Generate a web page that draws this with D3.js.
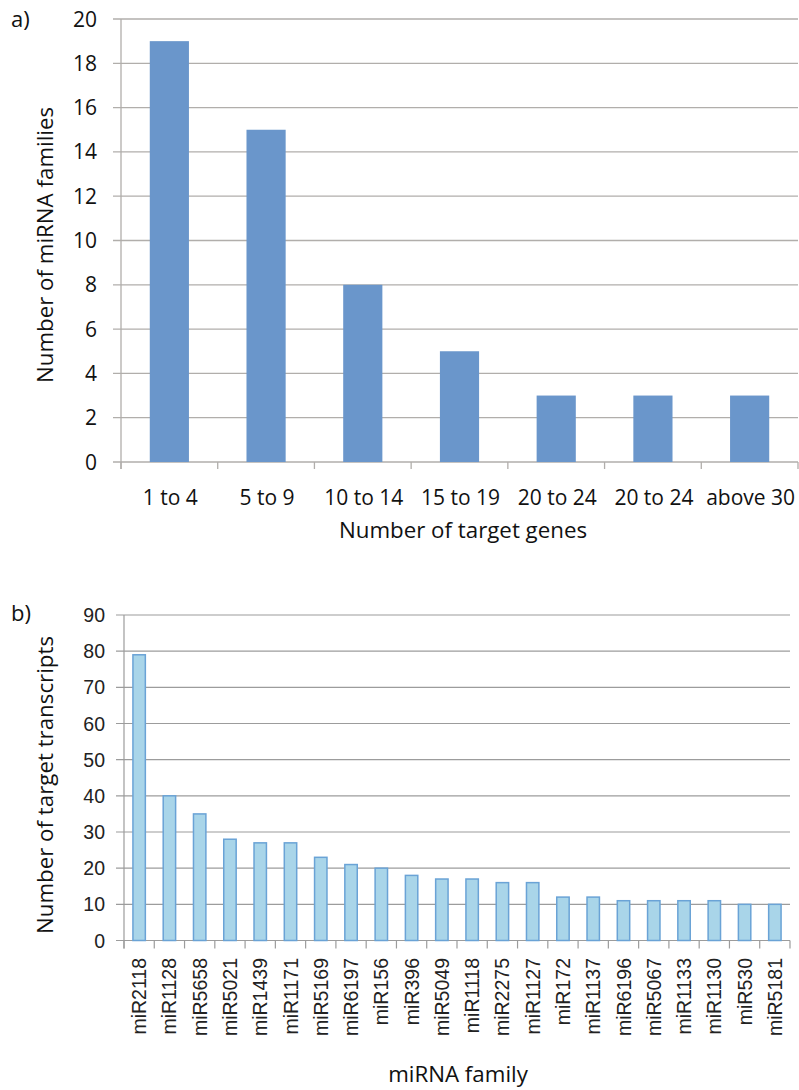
<!DOCTYPE html>
<html>
<head>
<meta charset="utf-8">
<script src="https://cdn.jsdelivr.net/npm/d3@7"></script>
<style>
  html, body { margin: 0; padding: 0; background: #fff; }
  svg { display: block; }
</style>
</head>
<body>
<svg id="fig" width="799" height="1090"></svg>
<script>
// Panel a: distribution of miRNA families by number of target genes
const rangeLabels = ["1 to 4", "5 to 9", "10 to 14", "15 to 19", "20 to 24", "20 to 24", "above 30"];
const familyCounts = [19, 15, 8, 5, 3, 3, 3];
const ticksA = [0, 2, 4, 6, 8, 10, 12, 14, 16, 18, 20];

// Panel b: target transcripts per miRNA family
const families = ["miR2118", "miR1128", "miR5658", "miR5021", "miR1439", "miR1171", "miR5169",
  "miR6197", "miR156", "miR396", "miR5049", "miR1118", "miR2275", "miR1127", "miR172",
  "miR1137", "miR6196", "miR5067", "miR1133", "miR1130", "miR530", "miR5181"];
const transcriptCounts = [79, 40, 35, 28, 27, 27, 23, 21, 20, 18, 17, 17, 16, 16, 12, 12, 11, 11, 11, 11, 10, 10];
const ticksB = [0, 10, 20, 30, 40, 50, 60, 70, 80, 90];

const svg = d3.select("#fig");
const sansA = "'Open Sans', Lato, sans-serif";
const sansB = "'Liberation Sans', Arial, sans-serif";

// ---------- Panel a ----------
(function () {
  const left = 121, right = 798, top = 19, bottom = 462;
  const x = d3.scaleBand().domain(rangeLabels.map((d, i) => i)).range([left, right]).padding(0);
  const y = d3.scaleLinear().domain([0, 20]).range([bottom, top]);
  const grid = "#b1aeab";
  const g = svg.append("g");

  // horizontal gridlines with short ticks to the left of the axis
  g.selectAll("line.grid").data(ticksA).join("line")
    .attr("x1", left - 8).attr("x2", right)
    .attr("y1", d => y(d)).attr("y2", d => y(d))
    .attr("stroke", grid).attr("stroke-width", 1.3);
  // vertical axis line
  g.append("line").attr("x1", left).attr("x2", left).attr("y1", top).attr("y2", bottom + 7)
    .attr("stroke", grid).attr("stroke-width", 1.3);
  // category boundary ticks
  const bounds = d3.range(rangeLabels.length + 1).map(i => i === rangeLabels.length ? right : x(i));
  g.selectAll("line.xt").data(bounds).join("line")
    .attr("x1", d => d).attr("x2", d => d).attr("y1", bottom).attr("y2", bottom + 7)
    .attr("stroke", grid).attr("stroke-width", 1.3);

  // bars
  const bw = x.bandwidth() * 0.405;
  g.selectAll("rect").data(familyCounts).join("rect")
    .attr("x", (d, i) => x(i) + x.bandwidth() / 2 - bw / 2)
    .attr("y", d => y(d))
    .attr("width", bw)
    .attr("height", d => y(0) - y(d))
    .attr("fill", "#6a96cb");

  // y tick labels
  g.selectAll("text.yt").data(ticksA).join("text")
    .attr("x", 97).attr("y", d => y(d) + 7.5)
    .attr("text-anchor", "end")
    .attr("font-family", sansA).attr("font-size", 21).attr("fill", "#111")
    .text(d => d);

  // x tick labels
  g.selectAll("text.xl").data(rangeLabels).join("text")
    .attr("x", (d, i) => x(i) + x.bandwidth() / 2 + 1)
    .attr("y", 505)
    .attr("text-anchor", "middle")
    .attr("font-family", sansA).attr("font-size", 21).attr("fill", "#111")
    .text(d => d);

  // axis titles
  g.append("text").attr("x", 463).attr("y", 538).attr("text-anchor", "middle")
    .attr("font-family", sansA).attr("font-size", 22.3).attr("fill", "#111")
    .text("Number of target genes");
  g.append("text").attr("transform", "translate(53,245) rotate(-90)").attr("text-anchor", "middle")
    .attr("font-family", sansA).attr("font-size", 22.3).attr("fill", "#111")
    .text("Number of miRNA families");

  // panel tag
  g.append("text").attr("x", 11).attr("y", 27)
    .attr("font-family", sansA).attr("font-size", 22).attr("fill", "#111").text("a)");
})();

// ---------- Panel b ----------
(function () {
  const left = 124, right = 790, top = 615, bottom = 940.5;
  const x = d3.scaleBand().domain(families).range([left, right]).padding(0);
  const y = d3.scaleLinear().domain([0, 90]).range([bottom, top]);
  const grid = "#9c9c9c";
  const g = svg.append("g");

  g.selectAll("line.grid").data(ticksB).join("line")
    .attr("x1", left - 8).attr("x2", right)
    .attr("y1", d => y(d)).attr("y2", d => y(d))
    .attr("stroke", grid).attr("stroke-width", 1.2);
  g.append("line").attr("x1", left).attr("x2", left).attr("y1", top).attr("y2", bottom + 8)
    .attr("stroke", grid).attr("stroke-width", 1.2);
  const bounds = families.map(f => x(f)).concat([right]);
  g.selectAll("line.xt").data(bounds).join("line")
    .attr("x1", d => d).attr("x2", d => d).attr("y1", bottom).attr("y2", bottom + 8)
    .attr("stroke", grid).attr("stroke-width", 1.2);

  const bw = x.bandwidth() * 0.41;
  g.selectAll("rect").data(transcriptCounts).join("rect")
    .attr("x", (d, i) => x(families[i]) + x.bandwidth() / 2 - bw / 2)
    .attr("y", d => y(d))
    .attr("width", bw)
    .attr("height", d => y(0) - y(d))
    .attr("fill", "#a9d5e9")
    .attr("stroke", "#6aa3d6").attr("stroke-width", 1.5);

  g.selectAll("text.yt").data(ticksB).join("text")
    .attr("x", 105).attr("y", d => y(d) + 7)
    .attr("text-anchor", "end")
    .attr("font-family", sansB).attr("font-size", 19.5).attr("fill", "#222")
    .text(d => d);

  g.selectAll("text.xl").data(families).join("text")
    .attr("transform", f => `translate(${x(f) + x.bandwidth() / 2 + 7},958) rotate(-90)`)
    .attr("text-anchor", "end")
    .attr("font-family", sansB).attr("font-size", 19.5).attr("fill", "#222")
    .text(f => f);

  g.append("text").attr("x", 458).attr("y", 1082).attr("text-anchor", "middle")
    .attr("font-family", sansA).attr("font-size", 22.3).attr("fill", "#111")
    .text("miRNA family");
  g.append("text").attr("transform", "translate(53,785) rotate(-90)").attr("text-anchor", "middle")
    .attr("font-family", sansA).attr("font-size", 22.3).attr("fill", "#111")
    .text("Number of target transcripts");

  g.append("text").attr("x", 11).attr("y", 621)
    .attr("font-family", sansA).attr("font-size", 22).attr("fill", "#111").text("b)");
})();
</script>
</body>
</html>
